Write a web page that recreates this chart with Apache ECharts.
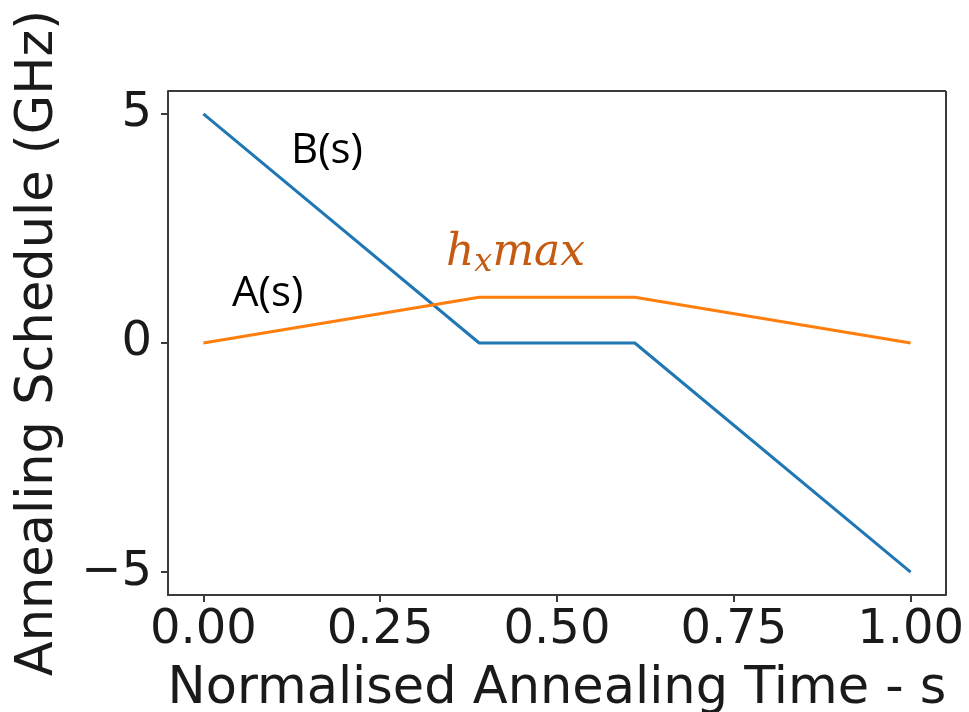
<!DOCTYPE html>
<html>
<head>
<meta charset="utf-8">
<script src="https://cdn.jsdelivr.net/npm/echarts@6/dist/echarts.min.js"></script>
<style>
  html, body { margin: 0; padding: 0; background: #fff; }
  #chart { width: 969px; height: 712px; }
</style>
</head>
<body>
<div id="chart"></div>
<script>
// normalised time points and schedules
var sValues = [0, 0.39, 0.61, 1]
var bValues = [5, 0, 0, -5]
var aValues = [0, 1, 1, 0]
var xTicks = [0, 0.25, 0.5, 0.75, 1]
var yTicks = [-5, 0, 5]

const toPairs = (xs, ys) => xs.map((x, i) => [x, ys[i]])

const axisColor = '#3a3a3a'
const tickFont = 'DejaVu Sans'

const option = {
  animation: false,
  backgroundColor: '#fff',
  grid: { left: 168, right: 23, top: 91, bottom: 117, outerBoundsMode: 'none', containLabel: false },
  xAxis: {
    type: 'value',
    min: -0.05,
    max: 1.05,
    name: 'Normalised Annealing Time - s',
    nameLocation: 'middle',
    nameGap: 69,
    nameTextStyle: { fontFamily: tickFont, fontSize: 51, color: '#1a1a1a' },
    axisLine: { onZero: false, lineStyle: { color: axisColor, width: 2 } },
    axisTick: { show: true, length: 7, lineStyle: { color: axisColor, width: 2 }, customValues: xTicks },
    axisLabel: {
      customValues: xTicks,
      fontFamily: tickFont, fontSize: 48, color: '#1a1a1a', margin: 12,
      formatter: v => v.toFixed(2)
    },
    splitLine: { show: false }
  },
  yAxis: {
    type: 'value',
    min: -5.5,
    max: 5.5,
    name: 'Annealing Schedule (GHz)',
    nameLocation: 'middle',
    nameGap: 104,
    nameTextStyle: { fontFamily: tickFont, fontSize: 51, color: '#1a1a1a' },
    axisLine: { onZero: false, lineStyle: { color: axisColor, width: 2 } },
    axisTick: { show: true, length: 7, lineStyle: { color: axisColor, width: 2 }, customValues: yTicks },
    axisLabel: {
      customValues: yTicks,
      fontFamily: tickFont, fontSize: 48, color: '#1a1a1a', margin: 16,
      formatter: v => (v < 0 ? '\u2212' + Math.abs(v) : String(v))
    },
    splitLine: { show: false }
  },
  series: [
    {
      name: 'B(s)',
      type: 'line',
      data: toPairs(sValues, bValues),
      showSymbol: false,
      lineStyle: { color: '#1f77b4', width: 3 },
      z: 2
    },
    {
      name: 'A(s)',
      type: 'line',
      data: toPairs(sValues, aValues),
      showSymbol: false,
      lineStyle: { color: '#ff7f0e', width: 3 },
      z: 3
    }
  ],
  graphic: [
    // top and right frame
    { type: 'line', shape: { x1: 168, y1: 91, x2: 946, y2: 91 }, style: { stroke: axisColor, lineWidth: 2 } },
    { type: 'line', shape: { x1: 946, y1: 91, x2: 946, y2: 595 }, style: { stroke: axisColor, lineWidth: 2 } },
    { type: 'text', left: 291, top: 130, style: { text: 'B(s)', font: '42px "Open Sans"', fill: '#000' } },
    { type: 'text', left: 232, top: 273, style: { text: 'A(s)', font: '42px "Open Sans"', fill: '#000' } },
    {
      type: 'text', left: 446, top: 232,
      style: {
        text: '{h|h}{x|x}{h|max}',
        rich: {
          h: { fontFamily: 'DejaVu Serif', fontStyle: 'italic', fontSize: 44, fill: '#c55a11' },
          x: { fontFamily: 'DejaVu Serif', fontStyle: 'italic', fontSize: 32, fill: '#c55a11', padding: [18, 0, 0, 0] }
        }
      }
    }
  ]
}

const chart = echarts.init(document.getElementById('chart'))
chart.setOption(option)
</script>
</body>
</html>
